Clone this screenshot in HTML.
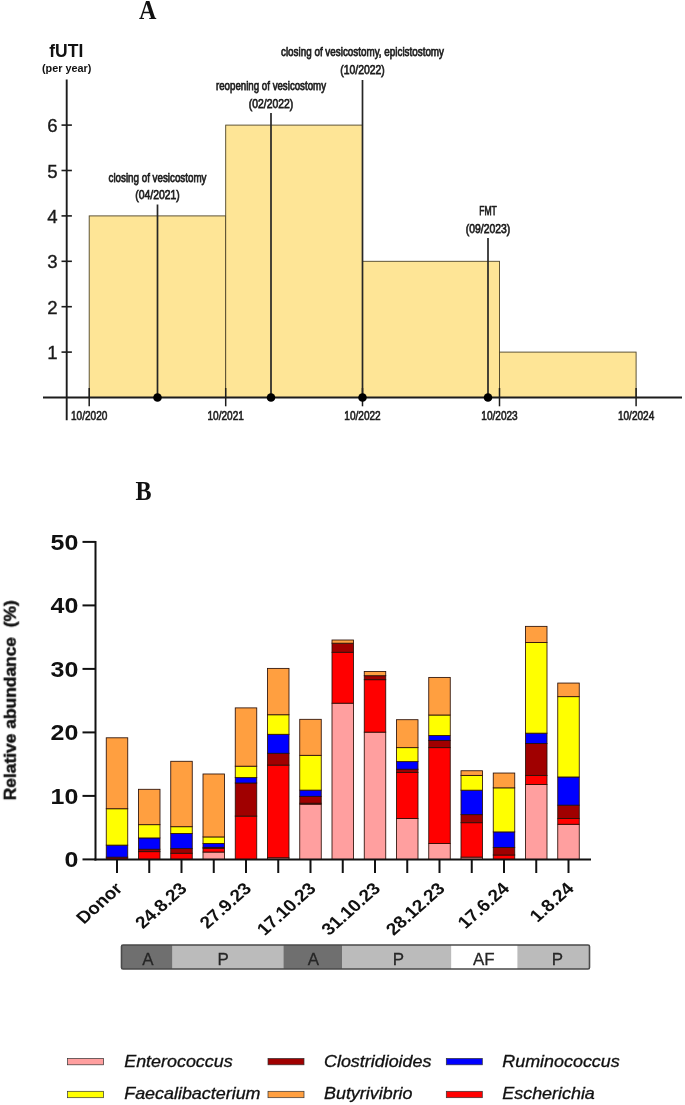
<!DOCTYPE html>
<html><head><meta charset="utf-8"><title>Figure</title>
<style>
html,body{margin:0;padding:0;background:#fff;}
body{width:685px;height:1105px;overflow:hidden;font-family:"Liberation Sans",sans-serif;}
svg{display:block;font-family:"Liberation Sans",sans-serif;}
</style></head><body>
<svg width="685" height="1105" viewBox="0 0 685 1105">
<defs><filter id="soft" x="0" y="0" width="685" height="1105" filterUnits="userSpaceOnUse" color-interpolation-filters="sRGB"><feGaussianBlur stdDeviation="0.7"/></filter></defs>
<rect width="685" height="1105" fill="#fff"/>
<g filter="url(#soft)">
<rect width="685" height="1105" fill="#fff"/>
<g id="chartA">
<rect x="89.2" y="215.9" width="136.5" height="181.6" fill="#FEE596" stroke="#4e4428" stroke-width="0.9"/>
<rect x="225.7" y="125.1" width="136.8" height="272.4" fill="#FEE596" stroke="#4e4428" stroke-width="0.9"/>
<rect x="362.5" y="261.3" width="137.0" height="136.2" fill="#FEE596" stroke="#4e4428" stroke-width="0.9"/>
<rect x="499.5" y="352.1" width="136.60000000000002" height="45.4" fill="#FEE596" stroke="#4e4428" stroke-width="0.9"/>
<line x1="66.7" y1="79.5" x2="66.7" y2="420.3" stroke="#1c1c1c" stroke-width="1.9"/>
<line x1="43" y1="397.5" x2="682" y2="397.5" stroke="#1c1c1c" stroke-width="1.9"/>
<line x1="61.5" y1="352.1" x2="71.9" y2="352.1" stroke="#1c1c1c" stroke-width="1.6"/>
<text x="57.6" y="359.2" font-size="18.6" text-anchor="end" fill="#1a1a1a" stroke="#1a1a1a" stroke-width="0.35">1</text>
<line x1="61.5" y1="306.7" x2="71.9" y2="306.7" stroke="#1c1c1c" stroke-width="1.6"/>
<text x="57.6" y="313.8" font-size="18.6" text-anchor="end" fill="#1a1a1a" stroke="#1a1a1a" stroke-width="0.35">2</text>
<line x1="61.5" y1="261.3" x2="71.9" y2="261.3" stroke="#1c1c1c" stroke-width="1.6"/>
<text x="57.6" y="268.4" font-size="18.6" text-anchor="end" fill="#1a1a1a" stroke="#1a1a1a" stroke-width="0.35">3</text>
<line x1="61.5" y1="215.9" x2="71.9" y2="215.9" stroke="#1c1c1c" stroke-width="1.6"/>
<text x="57.6" y="223.0" font-size="18.6" text-anchor="end" fill="#1a1a1a" stroke="#1a1a1a" stroke-width="0.35">4</text>
<line x1="61.5" y1="170.5" x2="71.9" y2="170.5" stroke="#1c1c1c" stroke-width="1.6"/>
<text x="57.6" y="177.6" font-size="18.6" text-anchor="end" fill="#1a1a1a" stroke="#1a1a1a" stroke-width="0.35">5</text>
<line x1="61.5" y1="125.1" x2="71.9" y2="125.1" stroke="#1c1c1c" stroke-width="1.6"/>
<text x="57.6" y="132.2" font-size="18.6" text-anchor="end" fill="#1a1a1a" stroke="#1a1a1a" stroke-width="0.35">6</text>
<line x1="89.2" y1="388" x2="89.2" y2="406.3" stroke="#1c1c1c" stroke-width="1.5"/>
<text x="89.2" y="420.2" font-size="13.3" text-anchor="middle" fill="#1e1e1e" stroke="#1e1e1e" stroke-width="0.7" textLength="36.4" lengthAdjust="spacingAndGlyphs">10/2020</text>
<line x1="225.7" y1="388" x2="225.7" y2="406.3" stroke="#1c1c1c" stroke-width="1.5"/>
<text x="225.7" y="420.2" font-size="13.3" text-anchor="middle" fill="#1e1e1e" stroke="#1e1e1e" stroke-width="0.7" textLength="36.4" lengthAdjust="spacingAndGlyphs">10/2021</text>
<line x1="362.5" y1="388" x2="362.5" y2="406.3" stroke="#1c1c1c" stroke-width="1.5"/>
<text x="362.5" y="420.2" font-size="13.3" text-anchor="middle" fill="#1e1e1e" stroke="#1e1e1e" stroke-width="0.7" textLength="36.4" lengthAdjust="spacingAndGlyphs">10/2022</text>
<line x1="499.5" y1="388" x2="499.5" y2="406.3" stroke="#1c1c1c" stroke-width="1.5"/>
<text x="499.5" y="420.2" font-size="13.3" text-anchor="middle" fill="#1e1e1e" stroke="#1e1e1e" stroke-width="0.7" textLength="36.4" lengthAdjust="spacingAndGlyphs">10/2023</text>
<line x1="636.1" y1="388" x2="636.1" y2="406.3" stroke="#1c1c1c" stroke-width="1.5"/>
<text x="636.1" y="420.2" font-size="13.3" text-anchor="middle" fill="#1e1e1e" stroke="#1e1e1e" stroke-width="0.7" textLength="36.4" lengthAdjust="spacingAndGlyphs">10/2024</text>
<line x1="157.5" y1="204.5" x2="157.5" y2="397.5" stroke="#262626" stroke-width="1.7"/>
<circle cx="157.5" cy="397.5" r="4.3" fill="#000"/>
<text x="157.5" y="181.5" font-size="13" text-anchor="middle" fill="#1e1e1e" stroke="#1e1e1e" stroke-width="0.75" textLength="98" lengthAdjust="spacingAndGlyphs">closing of vesicostomy</text>
<text x="157.5" y="198.8" font-size="13" text-anchor="middle" fill="#1e1e1e" stroke="#1e1e1e" stroke-width="0.75" textLength="44.5" lengthAdjust="spacingAndGlyphs">(04/2021)</text>
<line x1="271" y1="113" x2="271" y2="397.5" stroke="#262626" stroke-width="1.7"/>
<circle cx="271" cy="397.5" r="4.3" fill="#000"/>
<text x="271" y="90.4" font-size="13" text-anchor="middle" fill="#1e1e1e" stroke="#1e1e1e" stroke-width="0.75" textLength="110" lengthAdjust="spacingAndGlyphs">reopening of vesicostomy</text>
<text x="271" y="107.7" font-size="13" text-anchor="middle" fill="#1e1e1e" stroke="#1e1e1e" stroke-width="0.75" textLength="44.5" lengthAdjust="spacingAndGlyphs">(02/2022)</text>
<line x1="362.5" y1="80" x2="362.5" y2="397.5" stroke="#262626" stroke-width="1.7"/>
<circle cx="362.5" cy="397.5" r="4.3" fill="#000"/>
<text x="362.5" y="56.4" font-size="13" text-anchor="middle" fill="#1e1e1e" stroke="#1e1e1e" stroke-width="0.75" textLength="163" lengthAdjust="spacingAndGlyphs">closing of vesicostomy, epicistostomy</text>
<text x="362.5" y="73.7" font-size="13" text-anchor="middle" fill="#1e1e1e" stroke="#1e1e1e" stroke-width="0.75" textLength="44.5" lengthAdjust="spacingAndGlyphs">(10/2022)</text>
<line x1="488" y1="238" x2="488" y2="397.5" stroke="#262626" stroke-width="1.7"/>
<circle cx="488" cy="397.5" r="4.3" fill="#000"/>
<text x="488" y="215.4" font-size="13" text-anchor="middle" fill="#1e1e1e" stroke="#1e1e1e" stroke-width="0.75" textLength="17.6" lengthAdjust="spacingAndGlyphs">FMT</text>
<text x="488" y="232.7" font-size="13" text-anchor="middle" fill="#1e1e1e" stroke="#1e1e1e" stroke-width="0.75" textLength="44.5" lengthAdjust="spacingAndGlyphs">(09/2023)</text>
<text x="66.3" y="57" font-size="17.8" font-weight="bold" text-anchor="middle" fill="#111" textLength="34" lengthAdjust="spacingAndGlyphs">fUTI</text>
<text x="66.7" y="71.6" font-size="10.8" font-weight="bold" text-anchor="middle" fill="#111" textLength="49.5" lengthAdjust="spacingAndGlyphs">(per year)</text>
</g>
<text transform="translate(147.7 19) scale(0.91 1)" font-family="Liberation Serif, serif" font-weight="bold" font-size="26.5" text-anchor="middle" fill="#111">A</text>
<text transform="translate(143.6 499.7) scale(0.91 1)" font-family="Liberation Serif, serif" font-weight="bold" font-size="26.5" text-anchor="middle" fill="#111">B</text>
<g id="chartB">
<rect x="106.25" y="857.18" width="21.5" height="2.22" fill="#A00000" stroke="#2a1008" stroke-width="0.85"/>
<rect x="106.25" y="845.11" width="21.5" height="12.06" fill="#0000FF" stroke="#2a1008" stroke-width="0.85"/>
<rect x="106.25" y="808.73" width="21.5" height="36.39" fill="#FFFF00" stroke="#2a1008" stroke-width="0.85"/>
<rect x="106.25" y="737.80" width="21.5" height="70.93" fill="#FF9F40" stroke="#2a1008" stroke-width="0.85"/>
<rect x="138.50" y="851.65" width="21.5" height="7.75" fill="#FF0000" stroke="#2a1008" stroke-width="0.85"/>
<rect x="138.50" y="849.24" width="21.5" height="2.41" fill="#A00000" stroke="#2a1008" stroke-width="0.85"/>
<rect x="138.50" y="837.94" width="21.5" height="11.30" fill="#0000FF" stroke="#2a1008" stroke-width="0.85"/>
<rect x="138.50" y="824.67" width="21.5" height="13.27" fill="#FFFF00" stroke="#2a1008" stroke-width="0.85"/>
<rect x="138.50" y="789.30" width="21.5" height="35.37" fill="#FF9F40" stroke="#2a1008" stroke-width="0.85"/>
<rect x="170.75" y="853.24" width="21.5" height="6.16" fill="#FF0000" stroke="#2a1008" stroke-width="0.85"/>
<rect x="170.75" y="848.61" width="21.5" height="4.64" fill="#A00000" stroke="#2a1008" stroke-width="0.85"/>
<rect x="170.75" y="833.43" width="21.5" height="15.18" fill="#0000FF" stroke="#2a1008" stroke-width="0.85"/>
<rect x="170.75" y="826.70" width="21.5" height="6.73" fill="#FFFF00" stroke="#2a1008" stroke-width="0.85"/>
<rect x="170.75" y="761.29" width="21.5" height="65.40" fill="#FF9F40" stroke="#2a1008" stroke-width="0.85"/>
<rect x="203.00" y="852.03" width="21.5" height="7.37" fill="#FF9F9F" stroke="#2a1008" stroke-width="0.85"/>
<rect x="203.00" y="848.29" width="21.5" height="3.75" fill="#FF0000" stroke="#2a1008" stroke-width="0.85"/>
<rect x="203.00" y="847.33" width="21.5" height="0.95" fill="#A00000" stroke="#2a1008" stroke-width="0.85"/>
<rect x="203.00" y="843.46" width="21.5" height="3.87" fill="#0000FF" stroke="#2a1008" stroke-width="0.85"/>
<rect x="203.00" y="836.92" width="21.5" height="6.54" fill="#FFFF00" stroke="#2a1008" stroke-width="0.85"/>
<rect x="203.00" y="773.99" width="21.5" height="62.93" fill="#FF9F40" stroke="#2a1008" stroke-width="0.85"/>
<rect x="235.25" y="816.09" width="21.5" height="43.31" fill="#FF0000" stroke="#2a1008" stroke-width="0.85"/>
<rect x="235.25" y="783.01" width="21.5" height="33.08" fill="#A00000" stroke="#2a1008" stroke-width="0.85"/>
<rect x="235.25" y="777.61" width="21.5" height="5.40" fill="#0000FF" stroke="#2a1008" stroke-width="0.85"/>
<rect x="235.25" y="766.18" width="21.5" height="11.43" fill="#FFFF00" stroke="#2a1008" stroke-width="0.85"/>
<rect x="235.25" y="707.89" width="21.5" height="58.29" fill="#FF9F40" stroke="#2a1008" stroke-width="0.85"/>
<rect x="267.50" y="857.75" width="21.5" height="1.65" fill="#FF9F9F" stroke="#2a1008" stroke-width="0.85"/>
<rect x="267.50" y="765.10" width="21.5" height="92.65" fill="#FF0000" stroke="#2a1008" stroke-width="0.85"/>
<rect x="267.50" y="753.29" width="21.5" height="11.81" fill="#A00000" stroke="#2a1008" stroke-width="0.85"/>
<rect x="267.50" y="734.30" width="21.5" height="18.99" fill="#0000FF" stroke="#2a1008" stroke-width="0.85"/>
<rect x="267.50" y="714.75" width="21.5" height="19.56" fill="#FFFF00" stroke="#2a1008" stroke-width="0.85"/>
<rect x="267.50" y="668.39" width="21.5" height="46.35" fill="#FF9F40" stroke="#2a1008" stroke-width="0.85"/>
<rect x="299.75" y="804.15" width="21.5" height="55.24" fill="#FF9F9F" stroke="#2a1008" stroke-width="0.85"/>
<rect x="299.75" y="803.20" width="21.5" height="0.95" fill="#FF0000" stroke="#2a1008" stroke-width="0.85"/>
<rect x="299.75" y="796.34" width="21.5" height="6.86" fill="#A00000" stroke="#2a1008" stroke-width="0.85"/>
<rect x="299.75" y="790.12" width="21.5" height="6.22" fill="#0000FF" stroke="#2a1008" stroke-width="0.85"/>
<rect x="299.75" y="755.32" width="21.5" height="34.80" fill="#FFFF00" stroke="#2a1008" stroke-width="0.85"/>
<rect x="299.75" y="719.32" width="21.5" height="36.00" fill="#FF9F40" stroke="#2a1008" stroke-width="0.85"/>
<rect x="332.00" y="703.19" width="21.5" height="156.21" fill="#FF9F9F" stroke="#2a1008" stroke-width="0.85"/>
<rect x="332.00" y="652.26" width="21.5" height="50.93" fill="#FF0000" stroke="#2a1008" stroke-width="0.85"/>
<rect x="332.00" y="643.18" width="21.5" height="9.08" fill="#A00000" stroke="#2a1008" stroke-width="0.85"/>
<rect x="332.00" y="640.01" width="21.5" height="3.17" fill="#FF9F40" stroke="#2a1008" stroke-width="0.85"/>
<rect x="364.25" y="732.15" width="21.5" height="127.25" fill="#FF9F9F" stroke="#2a1008" stroke-width="0.85"/>
<rect x="364.25" y="679.69" width="21.5" height="52.45" fill="#FF0000" stroke="#2a1008" stroke-width="0.85"/>
<rect x="364.25" y="675.69" width="21.5" height="4.00" fill="#A00000" stroke="#2a1008" stroke-width="0.85"/>
<rect x="364.25" y="671.57" width="21.5" height="4.13" fill="#FF9F40" stroke="#2a1008" stroke-width="0.85"/>
<rect x="396.50" y="818.57" width="21.5" height="40.83" fill="#FF9F9F" stroke="#2a1008" stroke-width="0.85"/>
<rect x="396.50" y="772.40" width="21.5" height="46.16" fill="#FF0000" stroke="#2a1008" stroke-width="0.85"/>
<rect x="396.50" y="769.23" width="21.5" height="3.17" fill="#A00000" stroke="#2a1008" stroke-width="0.85"/>
<rect x="396.50" y="761.61" width="21.5" height="7.62" fill="#0000FF" stroke="#2a1008" stroke-width="0.85"/>
<rect x="396.50" y="747.64" width="21.5" height="13.97" fill="#FFFF00" stroke="#2a1008" stroke-width="0.85"/>
<rect x="396.50" y="719.70" width="21.5" height="27.94" fill="#FF9F40" stroke="#2a1008" stroke-width="0.85"/>
<rect x="428.75" y="843.52" width="21.5" height="15.88" fill="#FF9F9F" stroke="#2a1008" stroke-width="0.85"/>
<rect x="428.75" y="747.64" width="21.5" height="95.89" fill="#FF0000" stroke="#2a1008" stroke-width="0.85"/>
<rect x="428.75" y="740.40" width="21.5" height="7.24" fill="#A00000" stroke="#2a1008" stroke-width="0.85"/>
<rect x="428.75" y="735.58" width="21.5" height="4.83" fill="#0000FF" stroke="#2a1008" stroke-width="0.85"/>
<rect x="428.75" y="715.00" width="21.5" height="20.57" fill="#FFFF00" stroke="#2a1008" stroke-width="0.85"/>
<rect x="428.75" y="677.41" width="21.5" height="37.59" fill="#FF9F40" stroke="#2a1008" stroke-width="0.85"/>
<rect x="461.00" y="857.11" width="21.5" height="2.29" fill="#FF9F9F" stroke="#2a1008" stroke-width="0.85"/>
<rect x="461.00" y="822.70" width="21.5" height="34.42" fill="#FF0000" stroke="#2a1008" stroke-width="0.85"/>
<rect x="461.00" y="814.63" width="21.5" height="8.06" fill="#A00000" stroke="#2a1008" stroke-width="0.85"/>
<rect x="461.00" y="790.18" width="21.5" height="24.45" fill="#0000FF" stroke="#2a1008" stroke-width="0.85"/>
<rect x="461.00" y="775.39" width="21.5" height="14.80" fill="#FFFF00" stroke="#2a1008" stroke-width="0.85"/>
<rect x="461.00" y="770.75" width="21.5" height="4.64" fill="#FF9F40" stroke="#2a1008" stroke-width="0.85"/>
<rect x="493.25" y="855.02" width="21.5" height="4.38" fill="#FF0000" stroke="#2a1008" stroke-width="0.85"/>
<rect x="493.25" y="847.40" width="21.5" height="7.62" fill="#A00000" stroke="#2a1008" stroke-width="0.85"/>
<rect x="493.25" y="831.90" width="21.5" height="15.49" fill="#0000FF" stroke="#2a1008" stroke-width="0.85"/>
<rect x="493.25" y="787.84" width="21.5" height="44.07" fill="#FFFF00" stroke="#2a1008" stroke-width="0.85"/>
<rect x="493.25" y="773.04" width="21.5" height="14.80" fill="#FF9F40" stroke="#2a1008" stroke-width="0.85"/>
<rect x="525.50" y="784.47" width="21.5" height="74.93" fill="#FF9F9F" stroke="#2a1008" stroke-width="0.85"/>
<rect x="525.50" y="775.39" width="21.5" height="9.08" fill="#FF0000" stroke="#2a1008" stroke-width="0.85"/>
<rect x="525.50" y="743.51" width="21.5" height="31.88" fill="#A00000" stroke="#2a1008" stroke-width="0.85"/>
<rect x="525.50" y="733.16" width="21.5" height="10.35" fill="#0000FF" stroke="#2a1008" stroke-width="0.85"/>
<rect x="525.50" y="642.42" width="21.5" height="90.74" fill="#FFFF00" stroke="#2a1008" stroke-width="0.85"/>
<rect x="525.50" y="626.36" width="21.5" height="16.07" fill="#FF9F40" stroke="#2a1008" stroke-width="0.85"/>
<rect x="557.75" y="824.28" width="21.5" height="35.12" fill="#FF9F9F" stroke="#2a1008" stroke-width="0.85"/>
<rect x="557.75" y="818.57" width="21.5" height="5.71" fill="#FF0000" stroke="#2a1008" stroke-width="0.85"/>
<rect x="557.75" y="805.17" width="21.5" height="13.40" fill="#A00000" stroke="#2a1008" stroke-width="0.85"/>
<rect x="557.75" y="776.98" width="21.5" height="28.19" fill="#0000FF" stroke="#2a1008" stroke-width="0.85"/>
<rect x="557.75" y="696.65" width="21.5" height="80.33" fill="#FFFF00" stroke="#2a1008" stroke-width="0.85"/>
<rect x="557.75" y="683.06" width="21.5" height="13.59" fill="#FF9F40" stroke="#2a1008" stroke-width="0.85"/>
<line x1="95.5" y1="541" x2="95.5" y2="860.4" stroke="#111" stroke-width="2"/>
<line x1="94.5" y1="859.4" x2="591" y2="859.4" stroke="#111" stroke-width="2"/>
<line x1="82.5" y1="859.4" x2="95.5" y2="859.4" stroke="#111" stroke-width="2"/>
<text transform="translate(78.3 867.4) scale(1.115 1)" font-size="22.4" font-weight="bold" text-anchor="end" fill="#111">0</text>
<line x1="82.5" y1="795.9" x2="95.5" y2="795.9" stroke="#111" stroke-width="2"/>
<text transform="translate(78.3 803.9) scale(1.115 1)" font-size="22.4" font-weight="bold" text-anchor="end" fill="#111">10</text>
<line x1="82.5" y1="732.4" x2="95.5" y2="732.4" stroke="#111" stroke-width="2"/>
<text transform="translate(78.3 740.4) scale(1.115 1)" font-size="22.4" font-weight="bold" text-anchor="end" fill="#111">20</text>
<line x1="82.5" y1="668.9" x2="95.5" y2="668.9" stroke="#111" stroke-width="2"/>
<text transform="translate(78.3 676.9) scale(1.115 1)" font-size="22.4" font-weight="bold" text-anchor="end" fill="#111">30</text>
<line x1="82.5" y1="605.4" x2="95.5" y2="605.4" stroke="#111" stroke-width="2"/>
<text transform="translate(78.3 613.4) scale(1.115 1)" font-size="22.4" font-weight="bold" text-anchor="end" fill="#111">40</text>
<line x1="82.5" y1="541.9" x2="95.5" y2="541.9" stroke="#111" stroke-width="2"/>
<text transform="translate(78.3 549.9) scale(1.115 1)" font-size="22.4" font-weight="bold" text-anchor="end" fill="#111">50</text>
<line x1="117.00" y1="859.4" x2="117.00" y2="873" stroke="#111" stroke-width="2"/>
<line x1="149.25" y1="859.4" x2="149.25" y2="873" stroke="#111" stroke-width="2"/>
<line x1="181.50" y1="859.4" x2="181.50" y2="873" stroke="#111" stroke-width="2"/>
<line x1="213.75" y1="859.4" x2="213.75" y2="873" stroke="#111" stroke-width="2"/>
<line x1="246.00" y1="859.4" x2="246.00" y2="873" stroke="#111" stroke-width="2"/>
<line x1="278.25" y1="859.4" x2="278.25" y2="873" stroke="#111" stroke-width="2"/>
<line x1="310.50" y1="859.4" x2="310.50" y2="873" stroke="#111" stroke-width="2"/>
<line x1="342.75" y1="859.4" x2="342.75" y2="873" stroke="#111" stroke-width="2"/>
<line x1="375.00" y1="859.4" x2="375.00" y2="873" stroke="#111" stroke-width="2"/>
<line x1="407.25" y1="859.4" x2="407.25" y2="873" stroke="#111" stroke-width="2"/>
<line x1="439.50" y1="859.4" x2="439.50" y2="873" stroke="#111" stroke-width="2"/>
<line x1="471.75" y1="859.4" x2="471.75" y2="873" stroke="#111" stroke-width="2"/>
<line x1="504.00" y1="859.4" x2="504.00" y2="873" stroke="#111" stroke-width="2"/>
<line x1="536.25" y1="859.4" x2="536.25" y2="873" stroke="#111" stroke-width="2"/>
<line x1="568.50" y1="859.4" x2="568.50" y2="873" stroke="#111" stroke-width="2"/>
<text transform="translate(123.5 889.5) scale(1.12 1) rotate(-45)" font-size="17" font-weight="bold" text-anchor="end" fill="#111">Donor</text>
<text transform="translate(188.0 889.5) scale(1.12 1) rotate(-45)" font-size="17" font-weight="bold" text-anchor="end" fill="#111">24.8.23</text>
<text transform="translate(252.5 889.5) scale(1.12 1) rotate(-45)" font-size="17" font-weight="bold" text-anchor="end" fill="#111">27.9.23</text>
<text transform="translate(317.0 889.5) scale(1.12 1) rotate(-45)" font-size="17" font-weight="bold" text-anchor="end" fill="#111">17.10.23</text>
<text transform="translate(381.5 889.5) scale(1.12 1) rotate(-45)" font-size="17" font-weight="bold" text-anchor="end" fill="#111">31.10.23</text>
<text transform="translate(446.0 889.5) scale(1.12 1) rotate(-45)" font-size="17" font-weight="bold" text-anchor="end" fill="#111">28.12.23</text>
<text transform="translate(510.5 889.5) scale(1.12 1) rotate(-45)" font-size="17" font-weight="bold" text-anchor="end" fill="#111">17.6.24</text>
<text transform="translate(575.0 889.5) scale(1.12 1) rotate(-45)" font-size="17" font-weight="bold" text-anchor="end" fill="#111">1.8.24</text>
<text transform="translate(15.6 700.3) scale(0.99 1) rotate(-90)" font-size="17.4" font-weight="bold" text-anchor="middle" fill="#111" stroke="#111" stroke-width="0.5">Relative abundance&#160;&#160;(%)</text>
<rect x="121.5" y="945" width="51.1" height="24" fill="#6F6F6F"/>
<text transform="translate(147.9 964.6) scale(1.06 1)" font-size="16" text-anchor="middle" fill="#262626" stroke="#262626" stroke-width="0.25">A</text>
<rect x="172.6" y="945" width="110.8" height="24" fill="#BBBBBB"/>
<text transform="translate(223.1 964.6) scale(1.06 1)" font-size="16" text-anchor="middle" fill="#262626" stroke="#262626" stroke-width="0.25">P</text>
<rect x="283.4" y="945" width="58.6" height="24" fill="#6F6F6F"/>
<text transform="translate(313.5 964.6) scale(1.06 1)" font-size="16" text-anchor="middle" fill="#262626" stroke="#262626" stroke-width="0.25">A</text>
<rect x="342" y="945" width="109.4" height="24" fill="#BBBBBB"/>
<text transform="translate(398.3 964.6) scale(1.06 1)" font-size="16" text-anchor="middle" fill="#262626" stroke="#262626" stroke-width="0.25">P</text>
<rect x="451.4" y="945" width="66.0" height="24" fill="#FFFFFF"/>
<text transform="translate(483.7 964.6) scale(1.06 1)" font-size="16" text-anchor="middle" fill="#262626" stroke="#262626" stroke-width="0.25">AF</text>
<rect x="517.4" y="945" width="72.1" height="24" fill="#BBBBBB"/>
<text transform="translate(557.3 964.6) scale(1.06 1)" font-size="16" text-anchor="middle" fill="#262626" stroke="#262626" stroke-width="0.25">P</text>
<rect x="121.5" y="945" width="468" height="24" fill="none" stroke="#4a4a4a" stroke-width="1.6" rx="1.5"/>
<rect x="67.6" y="1058.4" width="36" height="6.4" fill="#FF9F9F" stroke="#333" stroke-width="0.7"/>
<text transform="translate(124.2 1067.2) scale(1.12 1)" font-size="16" font-style="italic" fill="#111" stroke="#111" stroke-width="0.3">Enterococcus</text>
<rect x="67.6" y="1091.3" width="36" height="6.4" fill="#FFFF00" stroke="#333" stroke-width="0.7"/>
<text transform="translate(124.2 1099.2) scale(1.12 1)" font-size="16" font-style="italic" fill="#111" stroke="#111" stroke-width="0.3">Faecalibacterium</text>
<rect x="268" y="1058.4" width="36" height="6.4" fill="#A00000" stroke="#333" stroke-width="0.7"/>
<text transform="translate(324 1067.2) scale(1.12 1)" font-size="16" font-style="italic" fill="#111" stroke="#111" stroke-width="0.3">Clostridioides</text>
<rect x="268" y="1091.3" width="36" height="6.4" fill="#FF9F40" stroke="#333" stroke-width="0.7"/>
<text transform="translate(324 1099.2) scale(1.12 1)" font-size="16" font-style="italic" fill="#111" stroke="#111" stroke-width="0.3">Butyrivibrio</text>
<rect x="446.3" y="1058.4" width="36" height="6.4" fill="#0000FF" stroke="#333" stroke-width="0.7"/>
<text transform="translate(502.3 1067.2) scale(1.12 1)" font-size="16" font-style="italic" fill="#111" stroke="#111" stroke-width="0.3">Ruminococcus</text>
<rect x="446.3" y="1091.3" width="36" height="6.4" fill="#FF0000" stroke="#333" stroke-width="0.7"/>
<text transform="translate(502.3 1099.2) scale(1.12 1)" font-size="16" font-style="italic" fill="#111" stroke="#111" stroke-width="0.3">Escherichia</text>
</g>
</g>
</svg>
</body></html>
